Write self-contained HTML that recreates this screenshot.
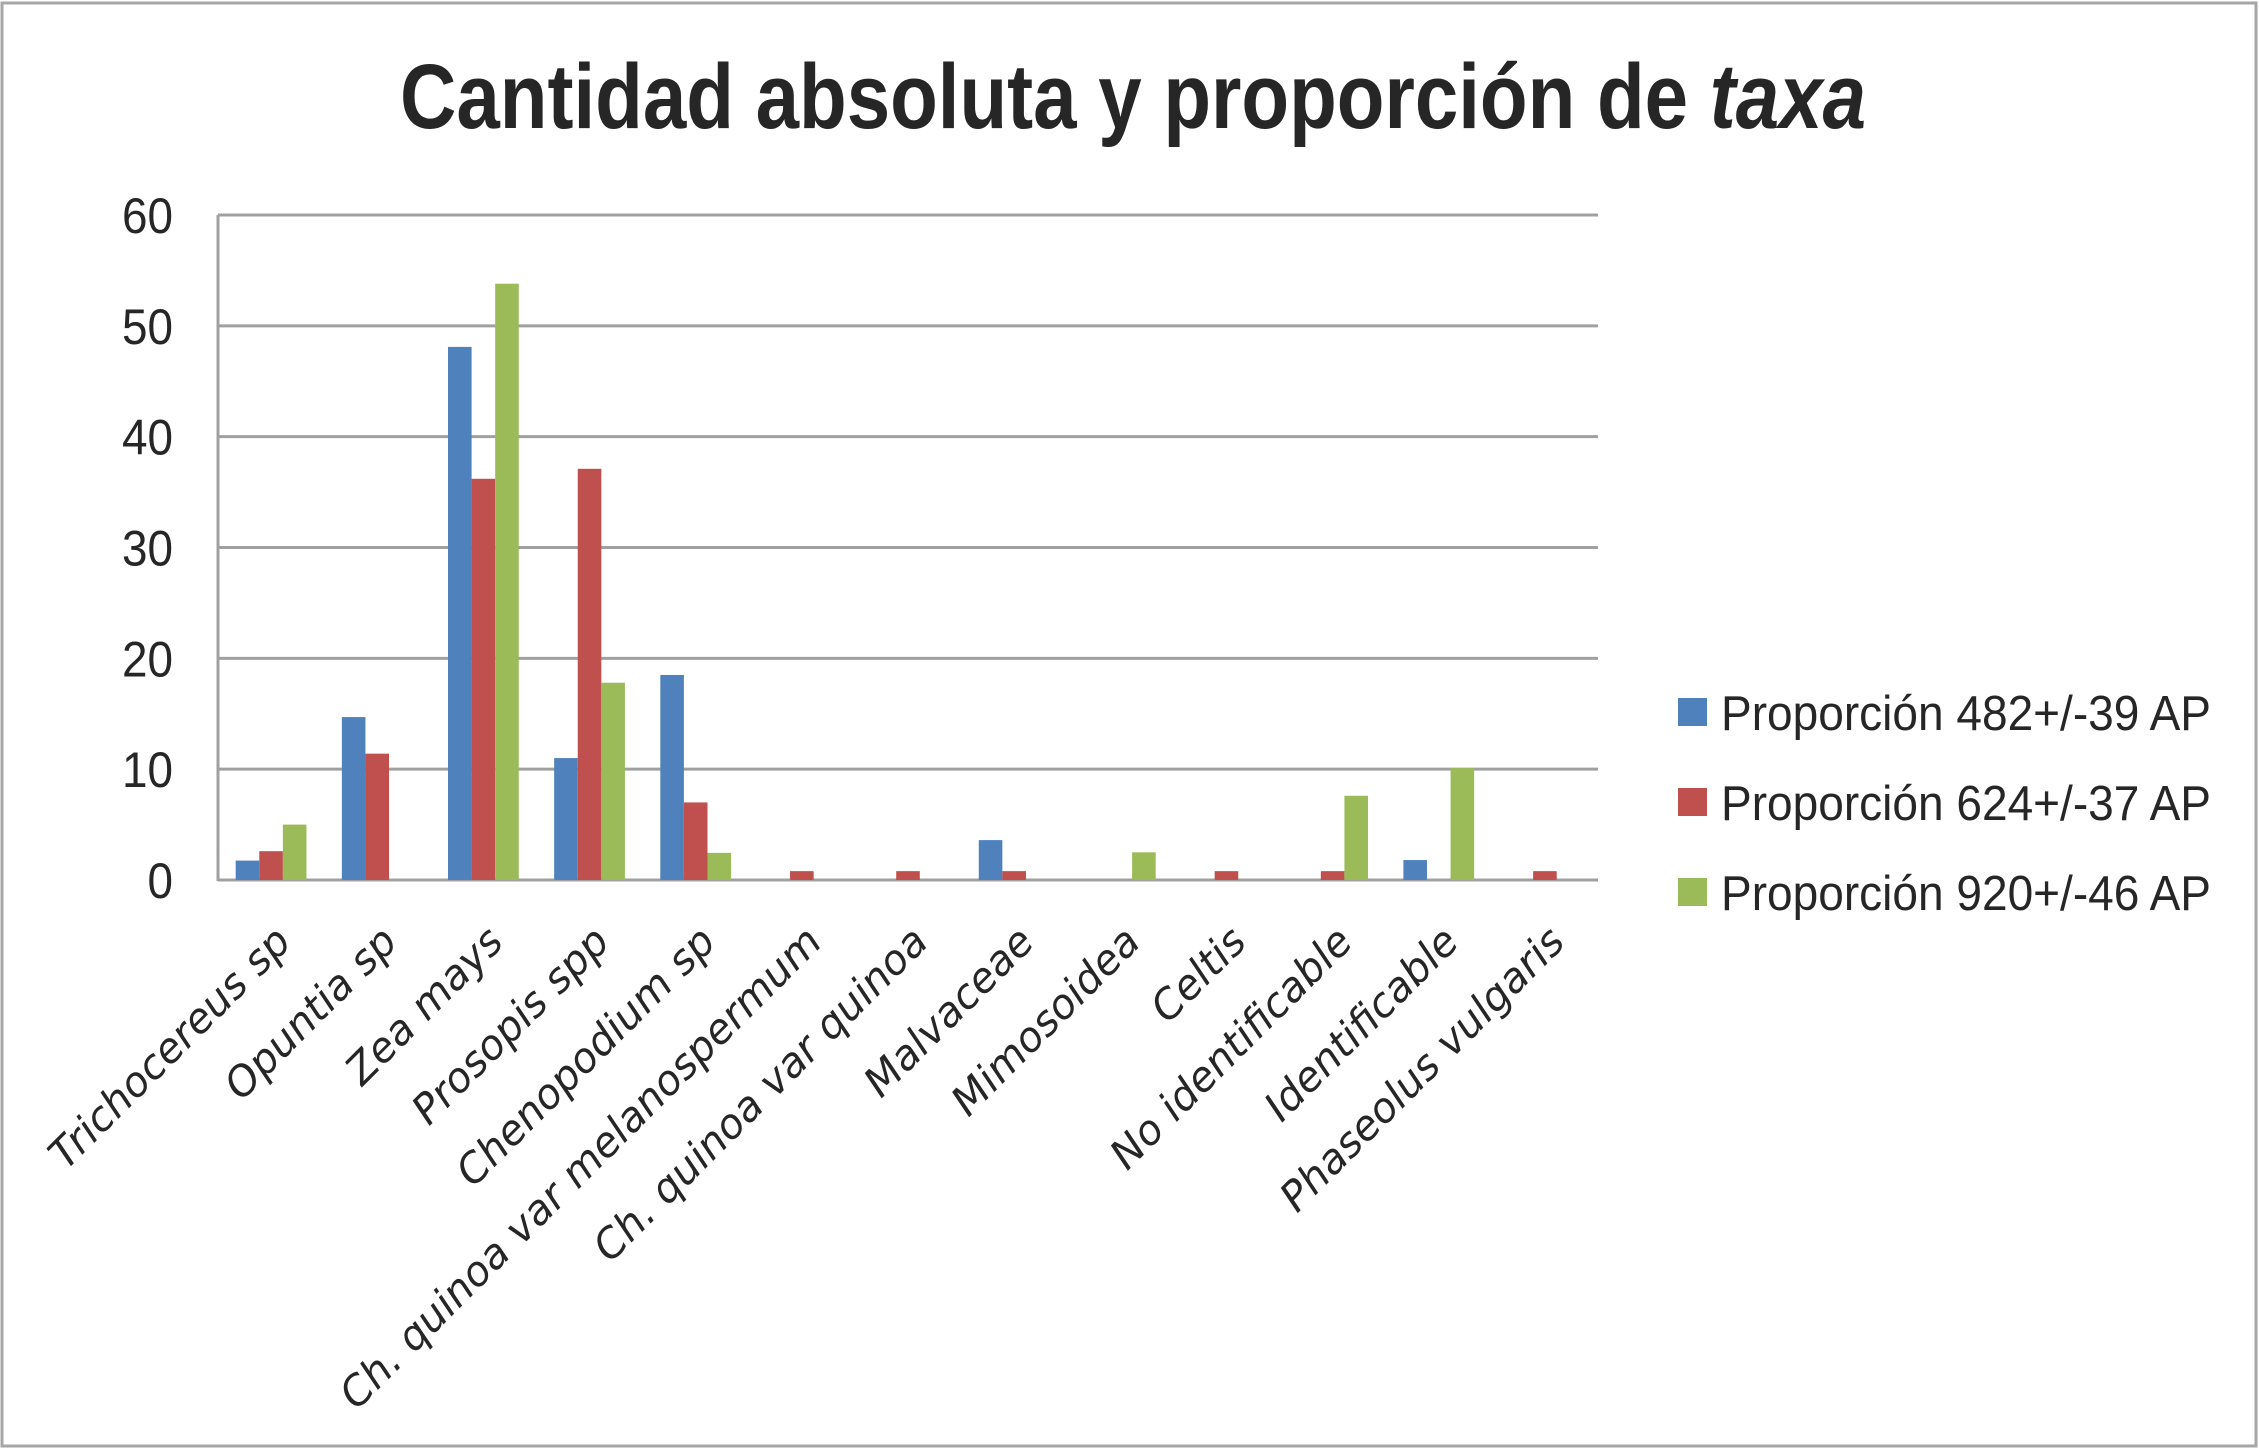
<!DOCTYPE html>
<html><head><meta charset="utf-8"><style>
html,body{margin:0;padding:0;background:#fff;}
svg{display:block;}
</style></head><body>
<svg id="chart" width="2259" height="1449" viewBox="0 0 2259 1449" xmlns="http://www.w3.org/2000/svg">
<rect x="2" y="3" width="2254" height="1443" fill="#fff" stroke="#a6a6a6" stroke-width="3"/>
<text x="400" y="128" textLength="1466" lengthAdjust="spacingAndGlyphs" font-family="Liberation Sans, sans-serif" font-weight="bold" font-size="92" fill="#262626">Cantidad absoluta y proporción de <tspan font-style="italic">taxa</tspan></text>
<g id="grid"></g>
<g id="bars"></g>
<g id="xlabels"></g>
<g id="ylabels"></g>
<g id="legend"></g>
</svg>
<script>
const categories = ["Trichocereus sp","Opuntia sp","Zea mays","Prosopis spp","Chenopodium sp","Ch. quinoa var melanospermum","Ch. quinoa var quinoa","Malvaceae","Mimosoidea","Celtis","No identificable","Identificable","Phaseolus vulgaris"];
const series482 = [1.75,14.7,48.1,11.0,18.5,0,0,3.6,0,0,0,1.8,0];
const series624 = [2.6,11.4,36.2,37.1,7.0,0.8,0.8,0.8,0,0.8,0.8,0,0.8];
const series920 = [5.0,0,53.8,17.8,2.45,0,0,0,2.5,0,7.6,10.1,0];
const seriesNames = ["Proporción 482+/-39 AP","Proporción 624+/-37 AP","Proporción 920+/-46 AP"];
const yTicks = [0,10,20,30,40,50,60];

const NS = "http://www.w3.org/2000/svg";
const X0 = 218, X1 = 1598, Y0 = 880, Y60 = 215, YMAX = 60;
const colors = ["#4f81bd","#c0504d","#9bbb59"];
const allSeries = [series482, series624, series920];
const catW = (X1 - X0) / categories.length;
const barW = catW / 4.5;
function yScale(v){ return Y0 - (v / YMAX) * (Y0 - Y60); }
function xCat(i){ return X0 + catW * i; }
function mk(tag, attrs, parent){
  const el = document.createElementNS(NS, tag);
  for (const k in attrs) el.setAttribute(k, attrs[k]);
  document.getElementById(parent).appendChild(el);
  return el;
}
yTicks.forEach(t => {
  const y = yScale(t);
  const g = mk("line", {x1: X0, x2: X1, y1: y, y2: y, stroke: "#a0a0a0", "stroke-width": 3}, "grid");
  
  
  const tx = mk("text", {x: 173, y: y + 18, "text-anchor": "end", "font-family": "Liberation Sans, sans-serif", "font-size": 50, fill: "#262626", textLength: String(t).length * 25.5, lengthAdjust: "spacingAndGlyphs"}, "ylabels");
  tx.textContent = t;
  
  
});
const ax = mk("line", {x1: X0, x2: X0, y1: Y60, y2: Y0 + 1, stroke: "#a0a0a0", "stroke-width": 3}, "grid");


allSeries.forEach((s, si) => {
  s.forEach((v, i) => {
    if (v <= 0) return;
    const x = xCat(i) + barW * 0.75 + barW * si;
    const y = yScale(v);
    const r = mk("rect", {x: x, y: y, width: barW, height: Y0 - y, fill: colors[si]}, "bars");
    
    
  });
});
categories.forEach((c, i) => {
  const cx = xCat(i) + catW / 2 + 22, cy = 944;
  const t = mk("text", {x: cx, y: cy, "text-anchor": "end", transform: "rotate(-45 " + cx + " " + cy + ")", "font-family": "DejaVu Sans, Liberation Sans, sans-serif", "font-style": "italic", "font-size": 41, fill: "#262626"}, "xlabels");
  t.textContent = c;
  
  
});
seriesNames.forEach((n, i) => {
  const y = 712 + i * 90;
  const r = mk("rect", {x: 1678, y: y - 14, width: 29, height: 28, fill: colors[i]}, "legend");
  
  
  const t = mk("text", {x: 1721, y: y + 18, "font-family": "Liberation Sans, sans-serif", "font-size": 49, fill: "#262626", textLength: 490, lengthAdjust: "spacingAndGlyphs"}, "legend");
  t.textContent = n;
  
  
});
</script>
</body></html>
